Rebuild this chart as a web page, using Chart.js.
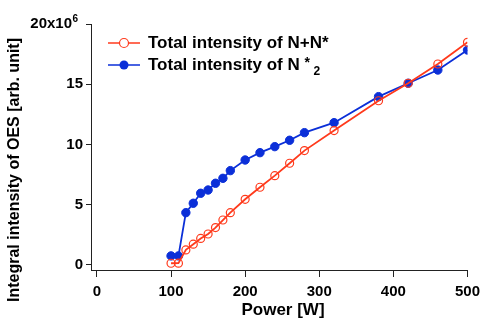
<!DOCTYPE html>
<html>
<head>
<meta charset="utf-8">
<script src="https://cdn.jsdelivr.net/npm/chart.js@4"></script>
<style>
  html, body { margin: 0; padding: 0; background: #fff; }
  #wrap { width: 486px; height: 320px; }
</style>
</head>
<body>
<div id="wrap"><canvas id="oesChart"></canvas></div>
<script>
// power in W, intensities in units of 10^6
const power = [100, 110, 120, 130, 140, 150, 160, 170, 180, 200, 220, 240, 260, 280, 320, 380, 420, 460, 500];
const totalNN = [0.14, 0.15, 1.25, 1.72, 2.2, 2.57, 3.1, 3.73, 4.34, 5.45, 6.45, 7.41, 8.44, 9.49, 11.15, 13.63, 15.08, 16.68, 18.48];
const totalN2 = [0.75, 0.75, 4.34, 5.12, 5.95, 6.22, 6.78, 7.19, 7.83, 8.71, 9.32, 9.82, 10.35, 10.98, 11.81, 13.97, 15.08, 16.18, 17.84];
const xTicks = [0, 100, 200, 300, 400, 500];
const yTicks = [0, 5, 10, 15, 20];

const FONT = "'Liberation Sans', Arial, sans-serif";
const RED = '#ff3a1c';
const BLUE = '#0b2fd8';

// legend with line + marker, the N2* sub/superscript, axis titles and the x10^6 top label
const legendPlugin = {
  id: 'oesLegend',
  afterDraw(chart) {
    const ctx = chart.ctx;
    const rows = [
      { y: 43, color: RED, filled: false, text: 'Total intensity of N+N*' },
      { y: 65, color: BLUE, filled: true, text: 'Total intensity of N ' }
    ];
    ctx.save();
    rows.forEach((r, i) => {
      ctx.strokeStyle = r.color;
      ctx.lineWidth = 1.5;
      ctx.beginPath();
      ctx.moveTo(108, r.y);
      ctx.lineTo(140, r.y);
      ctx.stroke();
      ctx.beginPath();
      ctx.arc(124, r.y, 4.5, 0, Math.PI * 2);
      if (r.filled) {
        ctx.fillStyle = r.color;
        ctx.fill();
      } else {
        ctx.fillStyle = '#fff';
        ctx.fill();
        ctx.lineWidth = 1.2;
        ctx.stroke();
      }
      ctx.fillStyle = '#000';
      ctx.font = `bold 17px ${FONT}`;
      ctx.textBaseline = 'middle';
      ctx.textAlign = 'left';
      ctx.fillText(r.text, 148, r.y);
      if (i === 1) {
        const w = ctx.measureText(r.text).width;
        ctx.font = `bold 14px ${FONT}`;
        ctx.fillText('*', 148 + w, r.y - 2);
        ctx.font = `bold 12px ${FONT}`;
        ctx.fillText('2', 148 + w + 9, r.y + 7);
      }
    });

    // top y label with exponent
    const yTop = chart.scales.y.getPixelForValue(20);
    ctx.font = `bold 15px ${FONT}`;
    ctx.textAlign = 'right';
    ctx.fillText('20x10', 72, yTop);
    ctx.font = `bold 10px ${FONT}`;
    ctx.textAlign = 'left';
    ctx.fillText('6', 72.5, yTop - 5);

    // axis titles
    ctx.font = `bold 17px ${FONT}`;
    ctx.textAlign = 'center';
    ctx.textBaseline = 'middle';
    ctx.fillText('Power [W]', 283, 310);
    ctx.font = `bold 16px ${FONT}`;
    ctx.translate(15, 170);
    ctx.rotate(-Math.PI / 2);
    ctx.fillText('Integral intensity of OES [arb. unit]', 0, 0);
    ctx.restore();
  }
};

new Chart(document.getElementById('oesChart'), {
  type: 'line',
  data: {
    labels: power,
    datasets: [
      {
        label: 'Total intensity of N+N*',
        data: power.map((p, i) => ({ x: p, y: totalNN[i] })),
        borderColor: RED,
        backgroundColor: '#fff',
        borderWidth: 1.8,
        pointRadius: 4,
        pointBorderWidth: 1.2,
        pointBorderColor: RED,
        pointBackgroundColor: 'rgba(255,255,255,0)',
        tension: 0
      },
      {
        label: 'Total intensity of N*2',
        data: power.map((p, i) => ({ x: p, y: totalN2[i] })),
        borderColor: BLUE,
        backgroundColor: BLUE,
        borderWidth: 1.8,
        pointRadius: 4.2,
        pointBorderWidth: 1,
        pointBorderColor: BLUE,
        pointBackgroundColor: BLUE,
        tension: 0
      }
    ]
  },
  options: {
    responsive: true,
    maintainAspectRatio: false,
    animation: false,
    layout: { padding: { left: 0, top: 24, right: 17, bottom: 0 } },
    plugins: {
      legend: { display: false },
      tooltip: { enabled: false }
    },
    scales: {
      x: {
        type: 'linear',
        min: -8,
        max: 500,
        afterBuildTicks: s => { s.ticks = xTicks.map(v => ({ value: v })); },
        afterFit: s => { s.height = 50; },
        grid: { drawOnChartArea: false, tickLength: 7, color: '#222', tickWidth: 1 },
        border: { color: '#222', width: 1 },
        ticks: {
          color: '#000',
          font: { family: FONT, size: 15, weight: 'bold' },
          padding: 6,
          maxRotation: 0
        }
      },
      y: {
        type: 'linear',
        min: -0.42,
        max: 20,
        afterBuildTicks: s => { s.ticks = yTicks.map(v => ({ value: v })); },
        afterFit: s => { s.width = 91; },
        grid: { drawOnChartArea: false, tickLength: 5, color: '#222', tickWidth: 1 },
        border: { color: '#222', width: 1 },
        ticks: {
          color: '#000',
          font: { family: FONT, size: 15, weight: 'bold' },
          padding: 3,
          // the top label is drawn by the plugin with its exponent
          callback: v => (v === 20 ? '' : String(v))
        }
      }
    }
  },
  plugins: [legendPlugin]
});
</script>
</body>
</html>
